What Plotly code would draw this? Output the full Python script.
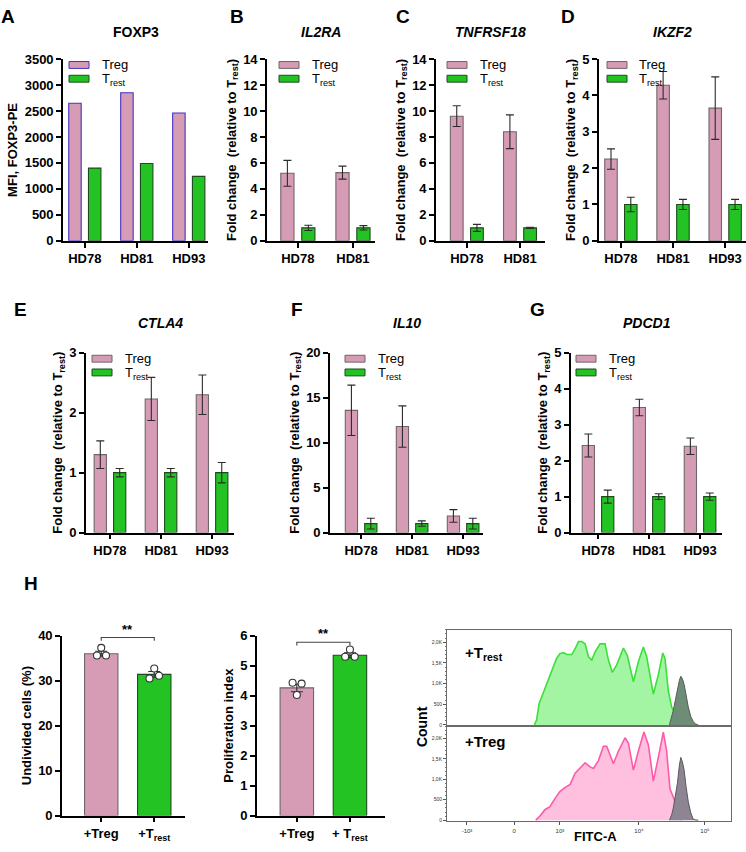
import plotly.graph_objects as go

W, H = 746, 852
FONT = "Liberation Sans, Arial, sans-serif"

# ---------------- data ----------------
donors3 = ["HD78", "HD81", "HD93"]
donors2 = ["HD78", "HD81"]

foxp3_treg = [2650, 2850, 2460]
foxp3_trest = [1400, 1490, 1240]

il2ra_treg = [5.2, 5.25]
il2ra_treg_err = [1.0, 0.5]
il2ra_trest = [1.0, 1.0]
il2ra_trest_err = [0.2, 0.17]

tnfrsf18_treg = [9.6, 8.4]
tnfrsf18_treg_err = [0.8, 1.3]
tnfrsf18_trest = [1.0, 1.0]
tnfrsf18_trest_err = [0.27, 0.05]

ikzf2_treg = [2.25, 4.28, 3.65]
ikzf2_treg_err = [0.28, 0.38, 0.86]
ikzf2_trest = [1.0, 1.0, 1.0]
ikzf2_trest_err = [0.2, 0.14, 0.14]

ctla4_treg = [1.3, 2.23, 2.3]
ctla4_treg_err = [0.23, 0.36, 0.33]
ctla4_trest = [1.0, 1.0, 1.0]
ctla4_trest_err = [0.07, 0.07, 0.17]

il10_treg = [13.6, 11.8, 1.85]
il10_treg_err = [2.8, 2.3, 0.7]
il10_trest = [1.0, 1.0, 1.0]
il10_trest_err = [0.6, 0.3, 0.6]

pdcd1_treg = [2.42, 3.48, 2.4]
pdcd1_treg_err = [0.32, 0.23, 0.23]
pdcd1_trest = [1.0, 1.0, 1.0]
pdcd1_trest_err = [0.18, 0.08, 0.1]

cocult_groups = ["+Treg", "+T<sub>rest</sub>"]
cocult_groups2 = ["+Treg", "+ T<sub>rest</sub>"]
undivided_mean = [36.0, 31.4]
undivided_sem = [0.55, 0.65]
undivided_treg_pts = [37.3, 35.6, 35.6]
undivided_trest_pts = [32.7, 30.5, 31.1]
prolif_mean = [4.26, 5.35]
prolif_sem = [0.13, 0.08]
prolif_treg_pts = [4.43, 4.40, 4.02]
prolif_trest_pts = [5.54, 5.30, 5.30]

# CFSE histograms (FITC-A, display channel units 0-1024)
trest_hist_ch = [315, 323, 332, 341, 359, 377, 395, 407, 420, 432, 450, 462, 474, 486, 498, 510,
                 522, 534, 552, 570, 582, 596, 612, 636, 650, 672, 690, 708, 720, 744, 762, 778,
                 786, 798, 810, 816, 830, 845]
trest_hist_count = [0, 118, 510, 667, 980, 1294, 1608, 1725, 1749, 1702, 1702, 1843, 2016, 2016,
                    1961, 1647, 1569, 1765, 1961, 1961, 1569, 1271, 1451, 1859, 1686, 1043, 1529,
                    1882, 1647, 745, 1216, 1741, 1608, 824, 431, 353, 150, 0]
treg_hist_ch = [320, 335, 353, 371, 389, 407, 425, 444, 462, 480, 498, 516, 528, 546, 564, 576,
                588, 600, 618, 642, 654, 672, 690, 710, 726, 744, 762, 780, 792, 804, 816, 830, 845]
treg_hist_count = [0, 101, 256, 333, 527, 698, 798, 876, 1147, 1264, 1403, 1302, 1264, 1457, 1806,
                   1806, 1574, 1380, 1690, 2016, 1884, 1225, 1690, 2155, 1845, 953, 1535, 2155,
                   1690, 760, 566, 300, 0]
ctrl_top_ch = [802, 810, 816, 824, 831, 838, 843, 849, 855, 862, 870, 879, 888, 897, 906]
ctrl_top_count = [0, 180, 353, 620, 863, 1080, 1176, 1110, 980, 720, 431, 200, 78, 20, 0]
ctrl_bot_ch = [802, 810, 816, 824, 831, 838, 843, 849, 855, 862, 870, 879, 888, 897, 906]
ctrl_bot_count = [0, 130, 295, 600, 915, 1350, 1535, 1420, 1225, 820, 450, 180, 23, 5, 0]

hist_tick_vals = [72, 242, 407, 692, 930]
hist_tick_text = ["-10³", "0", "10³", "10⁴", "10⁵"]
count_tick_vals = [0, 500, 1000, 1500, 2000]
count_tick_text = ["0", "500", "1,0K", "1,5K", "2,0K"]

# ---------------- styles ----------------
TREG = "#D69BB5"
TREST = "#22C322"
TREG_LINE = "#6f6669"
TREG_LINE_A = "#4433C4"
TREST_LINE = "#1f4a1f"
ERR = "#2b2b2b"


def xd(a, b):
    return [a / W, b / W]


def yd(top, bot):
    return [1 - bot / H, 1 - top / H]


def px(x):
    return x / W


def py(y):
    return 1 - y / H


fig = go.Figure()
layout = {}
ann = []
shapes = []

tick_font = dict(family=FONT, size=13, color="black", weight="bold")
title_font = dict(family=FONT, size=13, color="black", weight="bold")
FC = "Fold change  (relative to T<sub>rest</sub>)"

panels = [
    dict(letter="A", lx=8, ly=10, title="FOXP3", italic=False, cats=donors3,
         treg=foxp3_treg, treg_err=None, trest=foxp3_trest, trest_err=None,
         ymax=3500, dtick=500, ytitle="MFI, FOXP3-PE",
         xdom=(63, 208), ydom=(53, 238), xr=(-0.42, 2.37), tline=TREG_LINE_A, leg=(6, 37)),
    dict(letter="B", lx=237, ly=10, title="IL2RA", italic=True, cats=donors2,
         treg=il2ra_treg, treg_err=il2ra_treg_err, trest=il2ra_trest, trest_err=il2ra_trest_err,
         ymax=14, dtick=2, ytitle=FC,
         xdom=(267, 375), ydom=(53, 238), xr=(-0.56, 1.40), tline=TREG_LINE, leg=(12, 43)),
    dict(letter="C", lx=403, ly=10, title="TNFRSF18", italic=True, cats=donors2,
         treg=tnfrsf18_treg, treg_err=tnfrsf18_treg_err, trest=tnfrsf18_trest, trest_err=tnfrsf18_trest_err,
         ymax=14, dtick=2, ytitle=FC,
         xdom=(436, 545), ydom=(53, 238), xr=(-0.58, 1.47), tline=TREG_LINE, leg=(11, 42)),
    dict(letter="D", lx=568, ly=10, title="IKZF2", italic=True, cats=donors3,
         treg=ikzf2_treg, treg_err=ikzf2_treg_err, trest=ikzf2_trest, trest_err=ikzf2_trest_err,
         ymax=5, dtick=1, ytitle=FC,
         xdom=(599, 746), ydom=(53, 238), xr=(-0.42, 2.40), tline=TREG_LINE, leg=(8, 38)),
    dict(letter="E", lx=20, ly=308, title="CTLA4", italic=True, cats=donors3,
         treg=ctla4_treg, treg_err=ctla4_treg_err, trest=ctla4_trest, trest_err=ctla4_trest_err,
         ymax=3, dtick=1, ytitle=FC,
         xdom=(86, 234), ydom=(352, 535), xr=(-0.47, 2.43), tline=TREG_LINE, leg=(6, 37)),
    dict(letter="F", lx=297, ly=308, title="IL10", italic=True, cats=donors3,
         treg=il10_treg, treg_err=il10_treg_err, trest=il10_trest, trest_err=il10_trest_err,
         ymax=20, dtick=5, ytitle=FC,
         xdom=(330, 483), ydom=(352, 535), xr=(-0.61, 2.39), tline=TREG_LINE, leg=(15, 46)),
    dict(letter="G", lx=537, ly=308, title="PDCD1", italic=True, cats=donors3,
         treg=pdcd1_treg, treg_err=pdcd1_treg_err, trest=pdcd1_trest, trest_err=pdcd1_trest_err,
         ymax=5, dtick=1, ytitle=FC,
         xdom=(571, 722), ydom=(352, 535), xr=(-0.53, 2.43), tline=TREG_LINE, leg=(5, 36)),
]


def axis_common():
    return dict(showline=True, linecolor="black", linewidth=1.6, ticks="outside",
                ticklen=5, tickwidth=1.6, tickcolor="black", showgrid=False,
                zeroline=False, tickfont=tick_font)


def err(arr):
    if arr is None:
        return None
    return dict(type="data", array=arr, visible=True, color=ERR, thickness=1.1, width=4)


for i, p in enumerate(panels, start=1):
    xa = "x" if i == 1 else f"x{i}"
    ya = "y" if i == 1 else f"y{i}"
    xk = "xaxis" if i == 1 else f"xaxis{i}"
    yk = "yaxis" if i == 1 else f"yaxis{i}"
    fig.add_trace(go.Bar(x=p["cats"], y=p["treg"], error_y=err(p["treg_err"]),
                         width=0.24, offset=-0.31, name="Treg",
                         marker=dict(color=TREG, line=dict(color=p["tline"], width=1.1)),
                         xaxis=xa, yaxis=ya, showlegend=False))
    fig.add_trace(go.Bar(x=p["cats"], y=p["trest"], error_y=err(p["trest_err"]),
                         width=0.24, offset=0.07, name="Trest",
                         marker=dict(color=TREST, line=dict(color=TREST_LINE, width=1.1)),
                         xaxis=xa, yaxis=ya, showlegend=False))
    xax = axis_common()
    xax.update(domain=xd(*p["xdom"]), range=list(p["xr"]), anchor=ya, type="category")
    yax = axis_common()
    yax.update(domain=yd(*p["ydom"]), range=[0, p["ymax"]], dtick=p["dtick"], anchor=xa,
               title=dict(text=p["ytitle"], font=title_font, standoff=4))
    layout[xk] = xax
    layout[yk] = yax
    # panel letter
    ann.append(dict(text=p["letter"], x=px(p["lx"]), y=py(p["ly"]), xref="paper", yref="paper",
                    showarrow=False, xanchor="center", yanchor="middle",
                    font=dict(family=FONT, size=19, color="black", weight="bold")))
    # title
    tx = (p["xdom"][0] + p["xdom"][1]) / 2
    tyy = 25 if p["ydom"][0] < 100 else 322
    ann.append(dict(text=p["title"], x=px(tx), y=py(tyy), xref="paper", yref="paper",
                    showarrow=False, xanchor="center", yanchor="middle",
                    font=dict(family=FONT, size=14, color="black", weight="bold",
                              style="italic" if p["italic"] else "normal")))
    # legend
    x0 = p["xdom"][0] + p["leg"][0]
    top = p["ydom"][0]
    for k, (lab, col, lc) in enumerate([("Treg", TREG, p["tline"]),
                                         ("T<sub>rest</sub>", TREST, TREST_LINE)]):
        yc = top + 6 + 14 * k
        shapes.append(dict(type="rect", xref="paper", yref="paper",
                           x0=px(x0), x1=px(x0 + 20), y0=py(yc + 3.5), y1=py(yc - 3.5),
                           fillcolor=col, line=dict(color=lc, width=1)))
        ann.append(dict(text=lab, x=px(p["xdom"][0] + p["leg"][1]), y=py(yc + (1 if k else 0)),
                        xref="paper", yref="paper", showarrow=False,
                        xanchor="left", yanchor="middle",
                        font=dict(family=FONT, size=13, color="black")))

ann.append(dict(text="H", x=px(22), y=py(600), xref="paper", yref="paper", showarrow=False,
                font=dict(family=FONT, size=19, color="black", weight="bold")))

# ---------------- H bar panels ----------------
hpanels = [
    dict(idx=8, labels=cocult_groups, mean=undivided_mean, sem=undivided_sem,
         pts=[undivided_treg_pts, undivided_trest_pts], jit=[[0, -0.08, 0.09], [0, -0.09, 0.09]],
         ymax=40, dtick=10, ytitle="Undivided cells (%)", xdom=(62, 185), xr=(-0.74, 1.58),
         br=(38.9, 39.6)),
    dict(idx=9, labels=cocult_groups2, mean=prolif_mean, sem=prolif_sem,
         pts=[prolif_treg_pts, prolif_trest_pts], jit=[[-0.08, 0.09, 0], [0, -0.09, 0.09]],
         ymax=6, dtick=1, ytitle="Proliferation index", xdom=(257, 385), xr=(-0.75, 1.66),
         br=(5.67, 5.78)),
]
for hp in hpanels:
    i = hp["idx"]
    xa, ya = f"x{i}", f"y{i}"
    fig.add_trace(go.Bar(x=[0, 1], y=hp["mean"], width=0.63,
                         error_y=dict(type="data", array=hp["sem"], color=ERR, thickness=1.1, width=6),
                         marker=dict(color=[TREG, TREST], line=dict(color=[TREG_LINE, TREST_LINE], width=1.1)),
                         xaxis=xa, yaxis=ya, showlegend=False))
    for g in range(2):
        fig.add_trace(go.Scatter(x=[g + j for j in hp["jit"][g]], y=hp["pts"][g], mode="markers",
                                 marker=dict(color="white", size=7, line=dict(color="#333", width=1.1)),
                                 xaxis=xa, yaxis=ya, showlegend=False))
    b0, b1 = hp["br"]
    fig.add_trace(go.Scatter(x=[0, 0, 1, 1], y=[b0, b1, b1, b0], mode="lines",
                             line=dict(color="#444", width=1.1), xaxis=xa, yaxis=ya, showlegend=False))
    ann.append(dict(text="**", x=0.5, y=b1, xref=xa, yref=ya, showarrow=False, yanchor="bottom",
                    yshift=-1, font=dict(family=FONT, size=13, color="black", weight="bold")))
    xax = axis_common()
    xax.update(domain=xd(*hp["xdom"]), range=list(hp["xr"]), anchor=ya,
               tickvals=[0, 1], ticktext=hp["labels"])
    yax = axis_common()
    yax.update(domain=yd(640, 823), range=[0, hp["ymax"]], dtick=hp["dtick"], anchor=xa,
               title=dict(text=hp["ytitle"], font=title_font, standoff=4))
    layout[f"xaxis{i}"] = xax
    layout[f"yaxis{i}"] = yax

# ---------------- histograms ----------------
hist = [
    dict(idx=10, ch=trest_hist_ch, cnt=trest_hist_count, line="#3be03b", fill="#a3f5a3",
         cch=ctrl_top_ch, ccnt=ctrl_top_count, cfill="#6e8d76", ydom=(634, 732)),
    dict(idx=11, ch=treg_hist_ch, cnt=treg_hist_count, line="#ff5aa8", fill="#ffbfdf",
         cch=ctrl_bot_ch, ccnt=ctrl_bot_count, cfill="#8d8592", ydom=(732, 829)),
]
for hh in hist:
    i = hh["idx"]
    xa, ya = f"x{i}", f"y{i}"
    fig.add_trace(go.Scatter(x=hh["ch"], y=hh["cnt"], mode="lines", fill="tozeroy",
                             fillcolor=hh["fill"], line=dict(color=hh["line"], width=1.6),
                             xaxis=xa, yaxis=ya, showlegend=False))
    fig.add_trace(go.Scatter(x=hh["cch"], y=hh["ccnt"], mode="lines", fill="tozeroy",
                             fillcolor=hh["cfill"], line=dict(color="#5a5a5a", width=1),
                             xaxis=xa, yaxis=ya, showlegend=False))
    bottom = i == 11
    xdict = dict(domain=xd(447, 731), range=[0, 1024], anchor=ya,
                 showline=True, mirror=True, linecolor="#6a6a6a", linewidth=1,
                 showgrid=False, zeroline=False, showticklabels=bottom)
    if bottom:
        xdict.update(tickvals=hist_tick_vals, ticktext=hist_tick_text, ticks="outside",
                     ticklen=3, tickcolor="#555",
                     tickfont=dict(family=FONT, size=6, color="#333"))
    else:
        xdict.update(ticks="")
    layout[f"xaxis{i}"] = xdict
    layout[f"yaxis{i}"] = dict(domain=yd(*hh["ydom"]), range=[-30, 2300], anchor=xa,
                               showline=True, mirror=True, linecolor="#6a6a6a", linewidth=1,
                               showgrid=False, zeroline=False,
                               tickvals=count_tick_vals, ticktext=count_tick_text,
                               ticks="outside", ticklen=3, tickcolor="#555",
                               minor=dict(ticks="outside", ticklen=1.5, dtick=100, tickcolor="#777"),
                               tickfont=dict(family=FONT, size=5, color="#333"))

ann.append(dict(text="+T<sub>rest</sub>", x=px(463), y=py(658), xref="paper", yref="paper",
                showarrow=False, xanchor="left", yanchor="middle",
                font=dict(family=FONT, size=15, color="black", weight="bold")))
ann.append(dict(text="+Treg", x=px(463), y=py(748), xref="paper", yref="paper",
                showarrow=False, xanchor="left", yanchor="middle",
                font=dict(family=FONT, size=15, color="black", weight="bold")))
ann.append(dict(text="Count", x=px(422), y=py(733), xref="paper", yref="paper",
                showarrow=False, textangle=-90, xanchor="center", yanchor="middle",
                font=dict(family=FONT, size=14, color="black", weight="bold")))
ann.append(dict(text="FITC-A", x=px(595), y=py(844), xref="paper", yref="paper",
                showarrow=False, xanchor="center", yanchor="middle",
                font=dict(family=FONT, size=13, color="black", weight="bold")))

layout.update(width=W, height=H, margin=dict(l=0, r=0, t=0, b=0),
              paper_bgcolor="white", plot_bgcolor="white", barmode="overlay",
              annotations=ann, shapes=shapes, font=dict(family=FONT))
fig.update_layout(**layout)
fig.write_html("out.html", config={"displayModeBar": False},
               post_script="document.body.style.margin='0';")
